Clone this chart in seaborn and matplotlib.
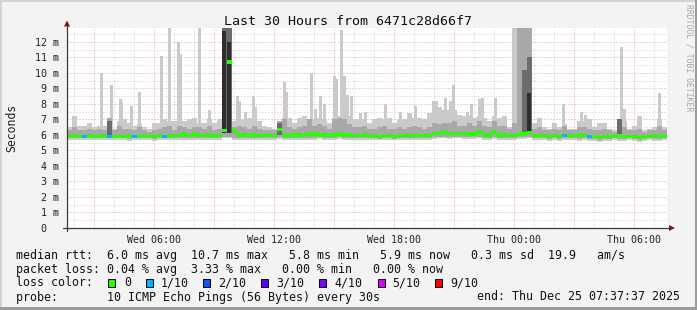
import numpy as np
import pandas as pd
import matplotlib
matplotlib.use("Agg")
import matplotlib.pyplot as plt
import seaborn as sns
from matplotlib.lines import Line2D
from matplotlib.patches import Rectangle, Polygon

# ---------------- data ----------------
title = "Last 30 Hours from 6471c28d66f7"
start_hour = 1.65          # hours after Wed 00:00 (Wed 01:39)
bin_hours = 0.25           # 15 minute bins
tick_hours = [6, 12, 18, 24, 30]
tick_labels = ["Wed 06:00", "Wed 12:00", "Wed 18:00", "Thu 00:00", "Thu 06:00"]
ytick_vals = list(range(13))
ytick_labels = ["0  "] + [f"{v} m" for v in range(1, 13)]

# median rtt (ms)
median = [5.95, 5.95, 5.9, 5.9, 5.95, 5.9, 5.9, 5.95, 5.9, 5.9,
          5.9, 5.9, 5.95, 5.9, 5.9, 5.95, 5.9, 5.9, 5.95, 5.9,
          5.95, 5.95, 5.95, 6.05, 5.95, 6.05, 5.95, 5.95, 6.0, 5.95,
          5.95, 6.3, 10.7, 6.25, 6.0, 6.0, 5.95, 6.0, 5.95, 5.95,
          5.95, 5.95, 6.35, 6.0, 5.95, 6.0, 6.0, 5.95, 6.05, 6.05,
          6.0, 6.0, 5.95, 6.0, 6.05, 6.0, 6.0, 5.95, 5.95, 6.0,
          5.95, 5.95, 5.9, 5.95, 5.95, 5.9, 5.95, 5.95, 5.95, 5.95,
          5.95, 5.95, 5.95, 6.1, 6.1, 6.2, 6.1, 6.1, 6.1, 6.1,
          6.05, 6.05, 6.2, 6.0, 6.0, 6.2, 6.0, 6.0, 5.95, 5.95,
          6.05, 6.05, 6.15, 5.95, 5.95, 5.95, 5.9, 5.95, 5.9, 5.95,
          5.95, 5.95, 6.0, 5.95, 5.9, 5.9, 5.85, 5.9, 5.9, 5.9,
          5.95, 5.9, 5.9, 5.9, 5.85, 5.9, 5.9, 5.95, 5.9, 5.9]

# lost pings out of 10 per bin
loss = [0, 0, 0, 1, 0, 0, 0, 0, 1, 0,
        0, 0, 0, 1, 0, 0, 0, 0, 0, 1,
        0, 0, 0, 0, 0, 0, 0, 0, 0, 0,
        0, 0, 0, 0, 0, 0, 0, 0, 0, 0,
        0, 0, 0, 0, 0, 0, 0, 0, 0, 0,
        0, 0, 0, 0, 0, 0, 0, 0, 0, 0,
        0, 0, 0, 0, 0, 0, 0, 0, 0, 0,
        0, 0, 0, 0, 0, 0, 0, 0, 0, 0,
        0, 0, 0, 0, 0, 0, 0, 0, 0, 0,
        0, 0, 0, 0, 0, 0, 0, 0, 0, 1,
        0, 0, 0, 0, 1, 0, 0, 0, 0, 0,
        0, 0, 0, 0, 0, 0, 0, 0, 0, 0]

# smoke: fastest / slowest ping per bin (light band)
smoke_lo = [5.7, 5.7, 5.65, 5.7, 5.7, 5.65, 5.7, 5.7, 5.65, 5.7,
            5.7, 5.7, 5.6, 5.65, 5.7, 5.7, 5.7, 5.6, 5.7, 5.65,
            5.7, 5.7, 5.65, 5.7, 5.7, 5.7, 5.65, 5.7, 5.7, 5.7,
            5.7, 5.8, 5.8, 5.7, 5.7, 5.65, 5.7, 5.7, 5.7, 5.65,
            5.7, 5.7, 5.75, 5.7, 5.7, 5.65, 5.7, 5.7, 5.7, 5.7,
            5.75, 5.7, 5.7, 5.7, 5.75, 5.7, 5.7, 5.7, 5.7, 5.7,
            5.7, 5.7, 5.65, 5.7, 5.7, 5.65, 5.7, 5.7, 5.7, 5.7,
            5.7, 5.65, 5.7, 5.75, 5.8, 5.8, 5.75, 5.8, 5.8, 5.75,
            5.75, 5.75, 5.8, 5.7, 5.7, 5.75, 5.7, 5.7, 5.7, 5.7,
            5.75, 5.75, 5.8, 5.65, 5.7, 5.65, 5.6, 5.65, 5.6, 5.65,
            5.7, 5.65, 5.6, 5.65, 5.6, 5.6, 5.55, 5.6, 5.6, 5.65,
            5.6, 5.6, 5.65, 5.6, 5.55, 5.6, 5.65, 5.6, 5.6, 5.65]
smoke_hi = [6.5, 7.2, 6.6, 6.6, 6.8, 6.5, 6.6, 6.6, 6.8, 6.4,
            6.9, 7.0, 6.8, 6.6, 6.7, 6.5, 6.4, 6.8, 6.8, 7.0,
            6.9, 6.9, 6.9, 6.9, 7.0, 7.1, 6.8, 6.8, 7.0, 6.8,
            7.0, 12.9, 12.9, 6.9, 7.0, 7.0, 7.1, 7.1, 6.9, 6.6,
            6.5, 6.4, 6.9, 7.1, 7.1, 6.8, 7.1, 7.2, 7.0, 7.0,
            7.1, 7.0, 6.8, 7.1, 7.2, 7.3, 7.2, 7.0, 7.0, 7.0,
            6.8, 7.0, 7.1, 7.0, 7.1, 6.8, 7.0, 7.0, 7.4, 7.1,
            7.1, 7.0, 7.4, 7.6, 7.8, 7.6, 7.6, 7.6, 7.3, 7.2,
            7.3, 7.1, 7.2, 7.1, 6.9, 7.2, 7.1, 7.2, 6.5, 12.9,
            12.9, 12.9, 12.9, 6.8, 7.1, 6.5, 6.4, 6.8, 6.5, 6.7,
            6.4, 6.4, 6.9, 6.9, 7.0, 6.5, 6.8, 6.8, 6.4, 6.3,
            7.0, 6.9, 6.4, 6.6, 7.2, 6.3, 6.4, 6.5, 7.0, 6.5]

# smoke: inner band (medium grey)
mid_lo = [5.8, 5.8, 5.8, 5.8, 5.8, 5.8, 5.8, 5.8, 5.8, 5.8,
          5.8, 5.8, 5.75, 5.8, 5.8, 5.8, 5.8, 5.75, 5.8, 5.8,
          5.8, 5.8, 5.8, 5.8, 5.8, 5.8, 5.8, 5.8, 5.8, 5.8,
          5.8, 5.9, 5.9, 5.8, 5.8, 5.8, 5.8, 5.8, 5.8, 5.8,
          5.8, 5.8, 5.85, 5.8, 5.8, 5.8, 5.8, 5.8, 5.8, 5.8,
          5.85, 5.8, 5.8, 5.8, 5.85, 5.8, 5.8, 5.8, 5.8, 5.8,
          5.8, 5.8, 5.75, 5.8, 5.8, 5.75, 5.8, 5.8, 5.8, 5.8,
          5.8, 5.8, 5.8, 5.85, 5.9, 5.9, 5.85, 5.9, 5.9, 5.85,
          5.85, 5.85, 5.9, 5.8, 5.8, 5.85, 5.8, 5.8, 5.8, 5.8,
          5.85, 5.85, 5.9, 5.8, 5.8, 5.8, 5.75, 5.8, 5.75, 5.8,
          5.8, 5.8, 5.75, 5.8, 5.75, 5.75, 5.7, 5.75, 5.75, 5.8,
          5.75, 5.75, 5.8, 5.75, 5.7, 5.75, 5.8, 5.75, 5.75, 5.8]
mid_hi = [6.3, 6.5, 6.3, 6.3, 6.4, 6.3, 6.4, 6.3, 7.1, 6.3,
          6.6, 6.4, 6.4, 6.3, 6.5, 6.3, 6.2, 6.3, 6.4, 6.5,
          6.6, 6.3, 6.6, 6.5, 6.4, 6.5, 6.5, 6.4, 6.6, 6.3,
          6.4, 12.9, 12.9, 6.5, 6.6, 6.5, 6.4, 6.6, 6.4, 6.3,
          6.3, 6.3, 6.9, 7.0, 6.5, 6.4, 6.5, 6.6, 7.0, 6.6,
          6.7, 6.6, 6.4, 7.0, 7.1, 7.0, 6.7, 6.5, 6.5, 6.6,
          6.4, 6.4, 6.5, 6.6, 6.4, 6.4, 6.5, 6.4, 6.5, 6.6,
          6.5, 6.4, 6.5, 6.8, 6.7, 6.8, 6.8, 6.9, 6.6, 6.6,
          6.8, 6.6, 6.9, 6.6, 6.5, 6.9, 6.6, 6.6, 6.4, 6.8,
          12.9, 12.9, 12.9, 6.4, 6.5, 6.3, 6.3, 6.4, 6.3, 6.6,
          6.3, 6.3, 6.5, 6.5, 6.4, 6.3, 6.3, 6.4, 6.3, 6.2,
          6.8, 6.5, 6.3, 6.3, 6.4, 6.2, 6.3, 6.3, 6.6, 6.3]

# smoke: dense cores (dark and darkest grey) for a few bins
dark_bins = [8, 31, 32, 42, 91, 92, 110]
dark_lo = [6.0, 6.1, 6.1, 6.0, 6.2, 6.1, 6.0]
dark_hi = [6.9, 12.9, 12.9, 6.8, 10.2, 11.0, 7.0]
darkest_bins = [31, 32, 92]
darkest_lo = [6.1, 6.1, 6.1]
darkest_hi = [12.7, 12.0, 8.7]

# isolated slow pings (short spikes): time in hours after Wed 00:00, slowest ping (ms)
spike_hours = [3.35, 3.85, 4.3, 4.4, 4.85, 5.25, 6.35, 6.75, 7.2, 7.3, 8.25, 8.75,
               10.15, 10.25, 10.55, 10.95, 11.05, 12.5, 12.6, 13.85, 14.05, 14.3, 14.5,
               15.0, 15.1, 15.35, 15.5, 15.65, 15.85, 16.3, 16.55, 17.55, 18.3, 19.05,
               19.95, 20.1, 20.55, 20.8, 20.95, 21.65, 21.85, 22.25, 22.4, 23.05,
               26.45, 27.35, 27.55, 29.35, 29.5, 31.25]
spike_max = [10.0, 9.2, 8.3, 8.1, 7.9, 8.8, 11.1, 12.9, 12.0, 11.2, 12.9, 7.6,
             8.5, 8.2, 7.5, 8.5, 7.8, 9.4, 8.8, 10.0, 7.7, 8.5, 8.0,
             9.8, 9.6, 12.8, 9.8, 8.6, 8.5, 7.4, 7.5, 8.0, 7.5, 7.9,
             8.2, 8.2, 8.4, 8.2, 9.2, 7.5, 8.0, 8.3, 8.4, 8.4,
             8.0, 7.5, 7.3, 11.7, 7.7, 8.7]
spike_base = 6.0

loss_levels = ["0", "1/10", "2/10", "3/10", "4/10", "5/10", "9/10"]
loss_colors = ["#26ff00", "#00b8ff", "#0059ff", "#5e00ff", "#7e00ff", "#dd00ff", "#ff0000"]

legend_rows = [
    "median rtt:  6.0 ms avg  10.7 ms max   5.8 ms min   5.9 ms now   0.3 ms sd  19.9   am/s",
    "packet loss: 0.04 % avg  3.33 % max   0.00 % min   0.00 % now",
    "loss color:",
    "probe:       10 ICMP Echo Pings (56 Bytes) every 30s",
]
end_text = "end: Thu Dec 25 07:37:37 2025"
watermark = "RRDTOOL / TOBI OETIKER"

# ---------------- figure ----------------
sns.set_theme(style="white")
plt.rcParams["font.family"] = ["DejaVu Sans Mono", "DejaVu Sans"]

W, H = 697, 310
fig = plt.figure(figsize=(W / 100, H / 100), dpi=100)
fig.patch.set_facecolor("#f3f3f3")


def fx(x):
    return x / W


def fy(y):
    return 1 - y / H


ax = fig.add_axes([fx(67), fy(228), fx(667) - fx(67), fy(28) - fy(228)])
ax.set_facecolor("white")

n = len(median)
times = start_hour + bin_hours * np.arange(n)
edges = np.append(times, times[-1] + bin_hours)
ax.set_xlim(edges[0], edges[-1])
ax.set_ylim(0, 12.9)

# grid
red_grid = "#eaa0a0"
grey_grid = "#cccccc"
dot = (0, (1, 2))
for h in range(int(np.ceil(edges[0])), int(np.floor(edges[-1])) + 1):
    ax.axvline(h, color=red_grid if h % 3 == 0 else grey_grid, lw=0.72, ls=dot, zorder=0.5)
for v in np.arange(0.5, 12.9, 0.5):
    ax.axhline(v, color=red_grid if float(v).is_integer() else grey_grid, lw=0.72, ls=dot, zorder=0.5)


def step(a):
    a = np.asarray(a, dtype=float)
    return np.append(a, a[-1])


light = "#cacaca"
ax.fill_between(edges, step(smoke_lo), step(smoke_hi), step="post", color=light, lw=0, zorder=1)
ax.bar(spike_hours, np.array(spike_max) - spike_base, bottom=spike_base, width=0.15,
       align="center", color=light, lw=0, zorder=1)
ax.fill_between(edges, step(mid_lo), step(mid_hi), step="post", color="#a8a8a8", lw=0, zorder=2)
ax.bar(times[dark_bins], np.array(dark_hi) - np.array(dark_lo), bottom=dark_lo,
       width=bin_hours, align="edge", color="#6c6c6c", lw=0, zorder=3)
ax.bar(times[darkest_bins], np.array(darkest_hi) - np.array(darkest_lo), bottom=darkest_lo,
       width=bin_hours * 0.7, align="edge", color="#2e2e2e", lw=0, zorder=3)

# median band coloured by loss
df = pd.DataFrame({"t": times + bin_hours / 2, "median": median,
                   "loss": [loss_levels[k] for k in loss]})
rect = np.array([[-1, -0.62], [1, -0.62], [1, 0.62], [-1, 0.62], [-1, -0.62]])
sns.scatterplot(data=df, x="t", y="median", hue="loss",
                palette=dict(zip(loss_levels, loss_colors)),
                marker=rect, s=(5.6 * 0.72) ** 2, linewidth=0, edgecolor="none",
                legend=False, ax=ax, zorder=5)

# axes and ticks
for s in ax.spines.values():
    s.set_visible(False)
ax.set_xticks(tick_hours)
ax.set_xticklabels(tick_labels, fontsize=7.2, color="#222222")
ax.set_yticks(ytick_vals)
ax.set_yticklabels(ytick_labels, fontsize=7.2, color="#222222")
ax.tick_params(axis="x", length=0, pad=5)
ax.tick_params(axis="y", length=2.2, width=0.7, color="#555555", pad=3.4, direction="out")
ax.set_xlabel("")
ax.set_ylabel("Seconds", fontsize=8.3, color="#222222")
ax.yaxis.set_label_coords(-(67 - 11.5) / 600, 0.5)
ax.yaxis.label.set_verticalalignment("center")

axis_col = "#3a3a3a"
arrow_col = "#8a1010"
fig.add_artist(Line2D([fx(63), fx(670)], [fy(228), fy(228)], color=axis_col, lw=0.9))
fig.add_artist(Line2D([fx(67), fx(67)], [fy(231), fy(25)], color=axis_col, lw=0.9))
fig.add_artist(Polygon([[fx(675), fy(228)], [fx(669), fy(225)], [fx(669), fy(231)]],
                       closed=True, color=arrow_col, lw=0))
fig.add_artist(Polygon([[fx(67), fy(20.5)], [fx(64), fy(26.5)], [fx(70), fy(26.5)]],
                       closed=True, color=arrow_col, lw=0))

# title and watermark
fig.text(fx(348.5), fy(25), title, ha="center", va="baseline", fontsize=9.6, color="#111111")
fig.text(fx(689), fy(4), watermark, rotation=270, ha="center", va="top",
         fontsize=5.9, color="#a8a8a8")

# legend text
leg_size = 8.4
baselines = [258.5, 272.5, 286.5, 300.5]
for row, yb in zip(legend_rows, baselines):
    fig.text(fx(16), fy(yb), row, ha="left", va="baseline", fontsize=leg_size, color="#111111")
fig.text(fx(680), fy(baselines[3]), end_text, ha="right", va="baseline",
         fontsize=leg_size, color="#111111")

box_x = [108, 146, 203, 261, 319, 378, 435]
lab_x = [124, 161, 218, 276, 334, 392, 450]
for bx, lx, lab, col in zip(box_x, lab_x, loss_levels, loss_colors):
    fig.add_artist(Rectangle((fx(bx), fy(286.5)), 7 / W, 7.5 / H, facecolor=col,
                             edgecolor="black", lw=0.7))
    fig.text(fx(lx), fy(baselines[2]), lab, ha="left", va="baseline",
             fontsize=leg_size, color="#111111")

# outer frame
fig.add_artist(Rectangle((0, fy(2)), 1, 2 / H, facecolor="#d4d4d4", lw=0))
fig.add_artist(Rectangle((0, 0), 2 / W, 1, facecolor="#d4d4d4", lw=0))
fig.add_artist(Rectangle((0, 0), 1, 3 / H, facecolor="#9c9c9c", lw=0))
fig.add_artist(Rectangle((fx(695), 0), 2 / W, 1, facecolor="#9c9c9c", lw=0))

fig.savefig("out.png", dpi=100, facecolor=fig.get_facecolor())
